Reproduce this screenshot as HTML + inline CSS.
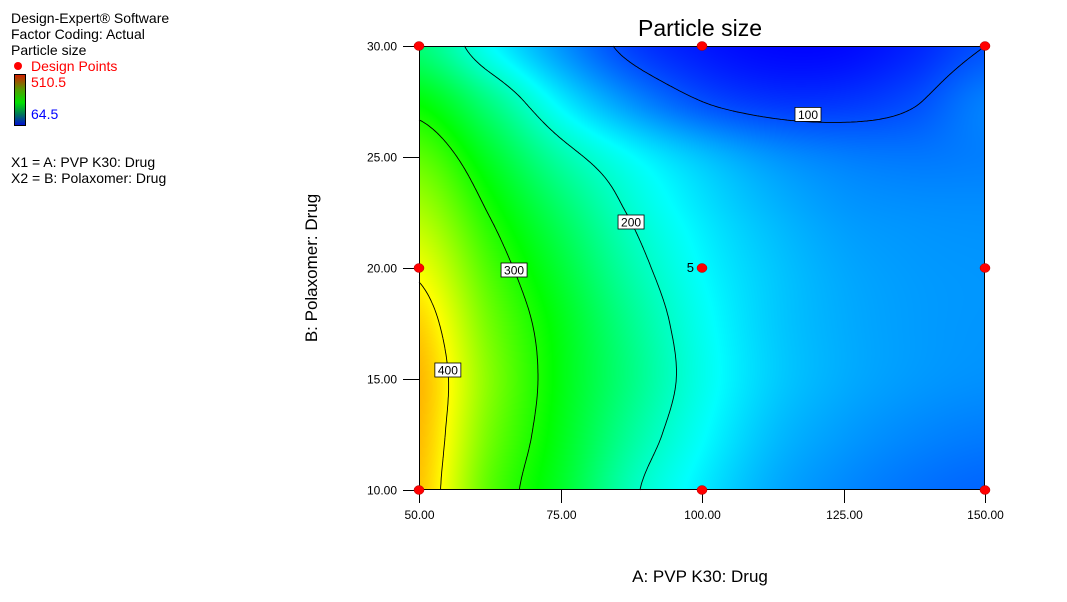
<!DOCTYPE html>
<html><head><meta charset="utf-8">
<style>
body{margin:0;background:#fff;width:1067px;height:602px;overflow:hidden;font-family:"Liberation Sans",Arial,sans-serif;position:relative}
.t{position:absolute;white-space:nowrap;font-size:14px;line-height:16px}
#plot{position:absolute;left:0;top:0}
</style></head><body>
<div class="t" style="left:11px;top:10px">Design-Expert® Software</div>
<div class="t" style="left:11px;top:26px">Factor Coding: Actual</div>
<div class="t" style="left:11px;top:42px">Particle size</div>
<div style="position:absolute;left:14px;top:62px;width:8px;height:8px;border-radius:50%;background:#f00"></div>
<div class="t" style="left:31px;top:58px;color:#f00">Design Points</div>
<div style="position:absolute;left:14px;top:74px;width:10px;height:50px;border:1px solid #000;background:linear-gradient(#d02000,#50a000 30%,#00e000 55%,#007060 80%,#0010d0)"></div>
<div class="t" style="left:31px;top:74px;color:#f00">510.5</div>
<div class="t" style="left:31px;top:106px;color:#00f">64.5</div>
<div class="t" style="left:11px;top:154px">X1 = A: PVP K30: Drug</div>
<div class="t" style="left:11px;top:170px">X2 = B: Polaxomer: Drug</div>

<canvas id="heat" width="566" height="444" style="position:absolute;left:419px;top:46px"></canvas>
<svg id="plot" width="1067" height="602"></svg>

<script>
// ---- data: predicted particle size on grid (rows = B levels, cols = A levels) ----
const aLevels = [50, 62.5, 75, 87.5, 100, 112.5, 125, 137.5, 150];
const bLevels = [10, 12.5, 15, 17.5, 20, 22.5, 25, 27.5, 30];
const rowB10   = [424, 326, 270, 206, 168, 140, 125, 115, 109];
const rowB12_5 = [428, 338, 277, 220, 178, 148, 133, 124, 119];
const rowB15   = [430, 346, 281, 230, 185, 155, 140, 132, 128];
const rowB17_5 = [418, 337, 278, 225, 182, 154, 140, 133, 130];
const rowB20   = [393, 320, 264, 212, 175, 152, 138, 132, 130];
const rowB22_5 = [362, 298, 244, 197, 166, 145, 132, 128, 127];
const rowB25   = [328, 270, 214, 177, 150, 130, 120, 117, 120];
const rowB27_5 = [285, 230, 170, 128, 100, 88, 88, 98, 120];
const rowB30   = [235, 178, 130, 92, 75, 67, 68, 80, 100];
const contourLevels = [100, 200, 300, 400];
const xTicks = [50, 75, 100, 125, 150];
const yTicks = [10, 15, 20, 25, 30];
const designA = [50, 50, 50, 100, 100, 100, 150, 150, 150];
const designB = [10, 20, 30, 10, 20, 30, 10, 20, 30];
const designRep = [1, 1, 1, 1, 5, 1, 1, 1, 1];
const scaleMin = 64.5, scaleMax = 510.5;

const grid = [rowB10,rowB12_5,rowB15,rowB17_5,rowB20,rowB22_5,rowB25,rowB27_5,rowB30];
const L=419,R=985,T=46,Bt=490;
const xs = a => L + (a-50)/100*(R-L);
const ys = b => Bt - (b-10)/20*(Bt-T);

function cr(p0,p1,p2,p3,t){return 0.5*((2*p1)+(-p0+p2)*t+(2*p0-5*p1+4*p2-p3)*t*t+(-p0+3*p1-3*p2+p3)*t*t*t);}
function g(i,j){i=Math.max(0,Math.min(bLevels.length-1,i));j=Math.max(0,Math.min(aLevels.length-1,j));return grid[i][j];}
function val(a,b){
  const gx=(a-aLevels[0])/(aLevels[1]-aLevels[0]), gy=(b-bLevels[0])/(bLevels[1]-bLevels[0]);
  let j=Math.min(Math.floor(gx),aLevels.length-2), i=Math.min(Math.floor(gy),bLevels.length-2);
  const tx=gx-j, ty=gy-i; const r=[];
  for(let k=-1;k<=2;k++) r.push(cr(g(i+k,j-1),g(i+k,j),g(i+k,j+1),g(i+k,j+2),tx));
  return cr(r[0],r[1],r[2],r[3],ty);
}
function cmap(v){
  let t=(v-scaleMin)/(scaleMax-scaleMin); t=Math.max(0,Math.min(1,t))*4;
  const s=Math.min(3,Math.floor(t)), f=t-s;
  if(s===0) return [0,255*f,255];
  if(s===1) return [0,255,255*(1-f)];
  if(s===2) return [255*f,255,0];
  return [255,255*(1-f),0];
}
const cv=document.getElementById('heat'),ctx=cv.getContext('2d');
const W=cv.width,H=cv.height,img=ctx.createImageData(W,H);
for(let py=0;py<H;py++)for(let px=0;px<W;px++){
  const a=50+px/(W-1)*100,b=30-py/(H-1)*20;const c=cmap(val(a,b));const o=(py*W+px)*4;
  img.data[o]=c[0];img.data[o+1]=c[1];img.data[o+2]=c[2];img.data[o+3]=255;}
ctx.putImageData(img,0,0);

const svg=document.getElementById('plot');const NS='http://www.w3.org/2000/svg';
function mk(tag,at,txt){const e=document.createElementNS(NS,tag);for(const k in at)e.setAttribute(k,at[k]);if(txt!==undefined)e.textContent=txt;svg.appendChild(e);return e;}

const step=2,nx=Math.floor((R-L)/step)+1,ny=Math.floor((Bt-T)/step)+1;
const V=[];for(let i=0;i<ny;i++){V.push([]);for(let j=0;j<nx;j++){const x=L+j*step,y=T+i*step;V[i].push(val(50+(x-L)/(R-L)*100,30-(y-T)/(Bt-T)*20));}}
const segsByLevel={};
contourLevels.forEach(lv=>{
  let d='';const pts=[];
  for(let i=0;i<ny-1;i++)for(let j=0;j<nx-1;j++){
    const c=[[V[i][j],L+j*step,T+i*step],[V[i][j+1],L+(j+1)*step,T+i*step],[V[i+1][j+1],L+(j+1)*step,T+(i+1)*step],[V[i+1][j],L+j*step,T+(i+1)*step]];
    const cr2=[];
    for(let k=0;k<4;k++){const p=c[k],q=c[(k+1)%4];if((p[0]-lv)*(q[0]-lv)<0){const t=(lv-p[0])/(q[0]-p[0]);cr2.push([p[1]+t*(q[1]-p[1]),p[2]+t*(q[2]-p[2])]);}}
    if(cr2.length>=2){d+='M'+cr2[0][0].toFixed(1)+' '+cr2[0][1].toFixed(1)+'L'+cr2[1][0].toFixed(1)+' '+cr2[1][1].toFixed(1);pts.push(cr2[0]);}
    if(cr2.length===4){d+='M'+cr2[2][0].toFixed(1)+' '+cr2[2][1].toFixed(1)+'L'+cr2[3][0].toFixed(1)+' '+cr2[3][1].toFixed(1);}
  }
  const p=mk('path',{d:d,stroke:'#000','stroke-width':'0.9',fill:'none'});
  
  
  segsByLevel[lv]=pts;
});
const labelRows={200:222,300:271,400:371};
contourLevels.forEach(lv=>{
  const pts=segsByLevel[lv];if(!pts.length)return;
  let best=pts[0];
  if(labelRows[lv]){let bd=1e9;pts.forEach(p=>{const dd=Math.abs(p[1]-labelRows[lv]);if(dd<bd){bd=dd;best=p;}});}
  else{pts.forEach(p=>{if(p[1]>best[1])best=p;});best=[best[0]-25,best[1]-8];}
  const w=26,h=14;
  const r=mk('rect',{x:best[0]-w/2,y:best[1]-h/2,width:w,height:h,fill:'#fff',stroke:'#000','stroke-width':'0.8'});
  
  
  const t=mk('text',{x:best[0],y:best[1]+4.5,'text-anchor':'middle','font-size':'12','font-family':'Liberation Sans, sans-serif'},String(lv));
  
  
});
const fr=mk('rect',{x:L+0.5,y:T+0.5,width:R-L-1,height:Bt-T-1,fill:'none',stroke:'#000','stroke-width':'1'});


xTicks.forEach(v=>{const x=Math.round(xs(v))+0.5;
  const l=mk('line',{x1:x,y1:Bt,x2:x,y2:Bt+13,stroke:'#000'});
  
  
  const t=mk('text',{x:x,y:519,'text-anchor':'middle','font-size':'12','font-family':'Liberation Sans, sans-serif'},v.toFixed(2));
  
  });
yTicks.forEach(v=>{const y=Math.round(ys(v))+0.5;
  const l=mk('line',{x1:L-16,y1:y,x2:L,y2:y,stroke:'#000'});
  
  
  const t=mk('text',{x:397,y:y+4,'text-anchor':'end','font-size':'12','font-family':'Liberation Sans, sans-serif'},v.toFixed(2));
  
  });
designA.forEach((a,i)=>{const c=mk('ellipse',{cx:xs(a),cy:ys(designB[i]),rx:5,ry:4.5,fill:'#f00',stroke:'#a00','stroke-width':'0.5'});
  
  
  if(designRep[i]>1){const t=mk('text',{x:xs(a)-8,y:ys(designB[i])+4,'text-anchor':'end','font-size':'13','font-family':'Liberation Sans, sans-serif'},String(designRep[i]));
    
    }});
const tt=mk('text',{x:700,y:36,'text-anchor':'middle','font-size':'23','font-family':'Liberation Sans, sans-serif'},'Particle size');


const xt=mk('text',{x:700,y:582,'text-anchor':'middle','font-size':'17','font-family':'Liberation Sans, sans-serif'},'A: PVP K30: Drug');


const yt=mk('text',{x:0,y:0,'text-anchor':'middle','font-size':'17','font-family':'Liberation Sans, sans-serif',transform:'translate(317,268) rotate(-90)'},'B: Polaxomer: Drug');


</script>
</body></html>
